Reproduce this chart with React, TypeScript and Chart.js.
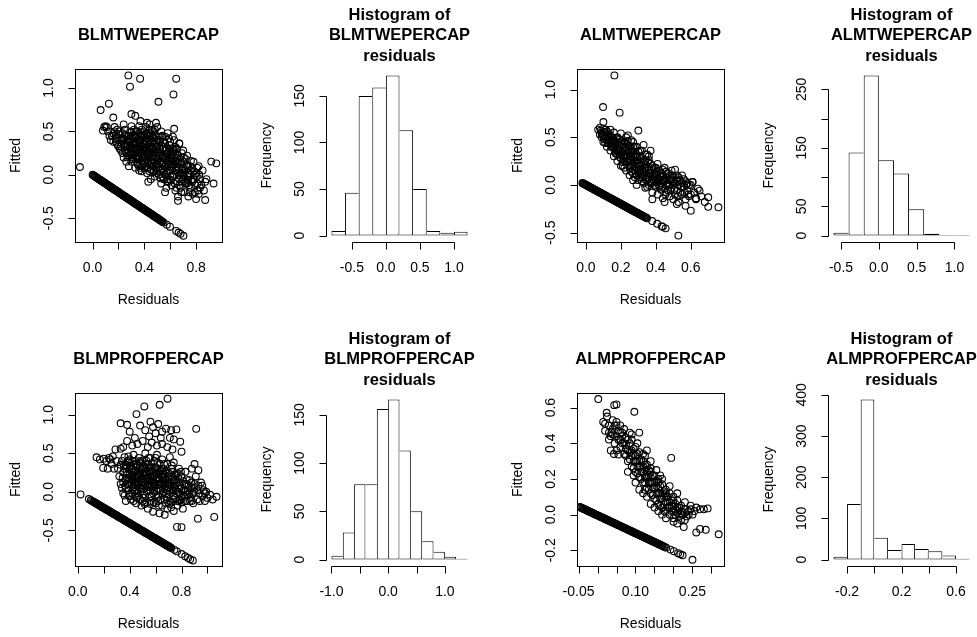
import React, { useEffect, useRef } from "react";
import { Chart, registerables } from "chart.js";

Chart.register(...registerables);

const PAGE_W = 977;
const PAGE_H = 637;
const FONT = '"Liberation Sans", Arial, Helvetica, sans-serif';

// ---------------- Panel 1: BLMTWEPERCAP (Residuals vs Fitted) ----------------
const blmTweCloud = [
  [0.15,0.45],[0.16,0.38],[0.17,0.50],[0.18,0.42],[0.19,0.35],[0.20,0.47],[0.17,0.55],[0.21,0.30],[0.14,0.40],[0.19,0.52],[0.22,0.40],[0.23,0.48],
  [0.24,0.36],[0.25,0.28],[0.26,0.44],[0.27,0.20],[0.28,0.38],[0.29,0.31],[0.30,0.49],[0.25,0.52],[0.27,0.33],[0.29,0.24],[0.23,0.25],[0.26,0.15],[0.30,0.40],[0.28,0.10],[0.31,0.18],[0.32,0.34],[0.33,0.26],[0.30,0.56],[0.24,0.58],
  [0.34,0.45],[0.35,0.12],[0.35,0.30],[0.36,0.05],[0.36,0.22],[0.37,0.40],[0.38,0.16],[0.38,0.52],[0.39,0.28],[0.40,0.08],[0.40,0.35],[0.34,0.20],[0.37,0.62],[0.33,0.08],[0.39,0.46],[0.41,0.20],[0.41,0.55],[0.36,0.35],[0.34,0.38],
  [0.42,0.02],[0.42,0.30],[0.43,0.14],[0.43,0.44],[0.44,0.24],[0.45,-0.05],[0.45,0.06],[0.46,0.36],[0.46,0.18],[0.47,0.50],[0.47,0.10],[0.48,0.28],[0.48,-0.02],[0.49,0.40],[0.49,0.20],[0.50,0.12],[0.50,0.32],[0.44,0.58],[0.45,0.48],[0.42,0.60],[0.43,-0.08],[0.47,0.03],[0.50,0.55],[0.49,0.60],
  [0.51,0.25],[0.51,0.00],[0.52,0.38],[0.52,0.15],[0.53,-0.10],[0.53,0.07],[0.54,0.30],[0.54,0.45],[0.55,0.20],[0.55,-0.05],[0.56,0.10],[0.56,0.36],[0.57,-0.15],[0.57,0.02],[0.58,0.25],[0.58,0.15],[0.59,-0.08],[0.59,0.42],[0.60,0.05],[0.60,0.30],[0.53,0.50],[0.56,-0.20],[0.58,0.48],
  [0.61,0.18],[0.61,-0.12],[0.62,0.10],[0.62,-0.02],[0.63,0.28],[0.63,0.40],[0.64,-0.18],[0.64,0.05],[0.65,0.15],[0.65,-0.08],[0.66,0.22],[0.66,-0.25],[0.67,0.00],[0.67,0.36],[0.68,0.12],[0.68,-0.15],[0.69,0.06],[0.69,0.25],[0.70,-0.05],[0.70,0.15],[0.62,0.44],[0.66,-0.30],[0.65,0.30],
  [0.71,-0.20],[0.72,0.05],[0.72,0.18],[0.73,-0.10],[0.74,0.10],[0.74,-0.25],[0.75,0.00],[0.76,-0.15],[0.77,0.08],[0.78,-0.05],[0.79,-0.20],[0.80,0.02],[0.81,-0.10],[0.82,-0.22],[0.83,-0.05],[0.84,-0.12],[0.85,0.05],[0.86,-0.18],[0.76,0.16],[0.73,0.22],[0.80,-0.28],[0.87,-0.08],[0.88,-0.05],
  [0.30,0.25],[0.32,0.30],[0.34,0.28],[0.36,0.18],[0.38,0.24],[0.40,0.20],[0.42,0.18],[0.44,0.12],[0.46,0.25],[0.48,0.15],[0.31,0.42],[0.33,0.36],[0.35,0.40],[0.37,0.32],[0.39,0.12],[0.41,0.42],[0.43,0.35],[0.45,0.30],[0.47,0.42],[0.49,0.08],
  [0.52,0.22],[0.54,0.12],[0.56,0.28],[0.58,0.05],[0.60,0.20],[0.62,0.22],[0.64,0.15],[0.66,0.08],[0.68,0.02],[0.70,0.08],[0.26,0.35],[0.28,0.45],[0.24,0.42],[0.22,0.33],[0.20,0.40],[0.18,0.46],[0.40,0.50],[0.44,0.45],[0.46,0.52],[0.36,0.48],
  [0.16,0.48],[0.18,0.38],[0.20,0.33],[0.21,0.50],[0.22,0.28],[0.23,0.42],[0.24,0.20],[0.25,0.46],[0.26,0.25],[0.27,0.40],[0.28,0.22],[0.29,0.50],[0.30,0.15],[0.31,0.30],[0.32,0.46],[0.33,0.18],
  [0.34,0.30],[0.35,0.50],[0.36,0.10],[0.37,0.25],[0.38,0.44],[0.39,0.20],[0.40,0.28],[0.41,0.10],[0.42,0.38],[0.43,0.22],[0.44,0.04],[0.45,0.40],[0.46,0.10],[0.47,0.30],[0.48,0.46],[0.49,0.12],
  [0.50,0.26],[0.50,0.02],[0.51,0.40],[0.52,0.05],[0.53,0.34],[0.54,0.22],[0.55,0.04],[0.55,0.40],[0.56,0.18],[0.57,0.30],[0.58,-0.05],[0.59,0.12],[0.60,0.38],[0.61,0.08],[0.62,0.30],[0.63,0.00],
  [0.64,0.20],[0.65,0.05],[0.66,0.14],[0.67,-0.12],[0.68,0.20],[0.69,-0.08],[0.70,0.28],[0.71,0.00],[0.72,-0.08],[0.73,0.10],[0.74,0.02],[0.75,-0.20],[0.76,0.05],[0.77,-0.08],[0.78,0.15],[0.79,0.00],
  [0.81,0.08],[0.83,-0.15],[0.35,0.20],[0.37,0.08],[0.39,0.36],[0.41,0.30],[0.43,0.28],[0.45,0.20],[0.47,0.22],[0.49,0.32],[0.51,0.18],[0.53,0.14],[0.57,0.20],[0.59,0.28],[0.61,0.24],[0.63,0.12],
  [0.65,-0.15],[0.31,0.24],[0.33,0.44],[0.29,0.38],[0.27,0.28],[0.40,0.14],[0.44,0.32],[0.48,0.36],[0.52,0.44],[0.46,0.44],[0.38,0.04],[0.42,0.46],[0.54,-0.02],[0.60,-0.02],[0.56,0.00],[0.64,0.32],
  [0.276,1.145],[0.367,1.107],[0.289,1.015],[0.646,1.107],[0.625,0.926],[0.509,0.842],[0.062,0.746],[0.126,0.819],[-0.098,0.09],[0.917,0.152],[0.956,0.132],[0.935,-0.10],[0.87,-0.29],
  [0.09,0.55],[0.10,0.56],[0.11,0.55],[0.08,0.51],[0.30,0.70],[0.33,0.68],[0.16,0.66],[0.63,0.53],[0.67,0.36],[0.82,0.10],[0.13,0.45],[0.12,0.50]
];
const blmTweCore = [
  [0.255,0.32],[0.265,0.40],[0.275,0.26],[0.285,0.34],[0.295,0.44],[0.305,0.20],[0.315,0.36],[0.325,0.24],[0.335,0.50],[0.345,0.14],[0.355,0.36],[0.365,0.28],[0.375,0.46],[0.385,0.10],
  [0.395,0.32],[0.405,0.24],[0.415,0.48],[0.425,0.08],[0.435,0.26],[0.445,0.38],[0.455,0.14],[0.465,0.32],[0.475,0.04],[0.485,0.22],[0.495,0.44],[0.505,0.06],[0.515,0.30],[0.525,-0.04],
  [0.535,0.20],[0.545,0.38],[0.555,0.10],[0.565,0.24],[0.575,-0.08],[0.585,0.18],[0.595,0.34],[0.605,-0.06],[0.615,0.12],[0.625,0.26],[0.635,-0.10],[0.645,0.10],[0.655,0.24],[0.665,-0.04],
  [0.675,0.14],[0.685,-0.20],[0.695,0.00],[0.705,0.20],[0.715,-0.10],[0.725,0.12],[0.735,-0.02],[0.745,-0.12],[0.755,0.10],[0.765,-0.06],[0.775,-0.22],[0.785,0.04],[0.795,-0.12],[0.805,-0.02],
  [0.815,-0.18],[0.825,0.00],[0.30,0.32],[0.34,0.22],[0.38,0.30],[0.42,0.24],[0.46,0.30],[0.50,0.18],[0.54,0.06],[0.58,0.10],[0.62,0.16],[0.66,0.02],[0.70,0.02],[0.74,-0.06],
  [0.32,0.52],[0.36,0.56],[0.40,0.44],[0.44,0.52],[0.48,0.52],[0.52,0.30],[0.56,0.44],[0.60,0.12]
];
const blmTweLine = [
  [0.000,0.000],[0.006,-0.006],[0.012,-0.012],[0.017,-0.017],[0.021,-0.021],[0.027,-0.027],[0.033,-0.033],[0.037,-0.037],[0.041,-0.041],[0.047,-0.047],
  [0.052,-0.052],[0.056,-0.056],[0.060,-0.060],[0.066,-0.066],[0.071,-0.071],[0.077,-0.077],[0.083,-0.083],[0.088,-0.088],[0.092,-0.092],[0.097,-0.097],
  [0.101,-0.101],[0.107,-0.107],[0.113,-0.113],[0.118,-0.118],[0.122,-0.122],[0.128,-0.128],[0.134,-0.134],[0.139,-0.139],[0.143,-0.143],[0.147,-0.147],
  [0.151,-0.151],[0.157,-0.157],[0.162,-0.162],[0.168,-0.168],[0.173,-0.173],[0.177,-0.177],[0.181,-0.181],[0.187,-0.187],[0.192,-0.192],[0.198,-0.198],
  [0.203,-0.203],[0.207,-0.207],[0.211,-0.211],[0.217,-0.217],[0.222,-0.222],[0.228,-0.228],[0.234,-0.234],[0.239,-0.239],[0.243,-0.243],[0.248,-0.248],
  [0.252,-0.252],[0.257,-0.257],[0.261,-0.261],[0.267,-0.267],[0.273,-0.273],[0.278,-0.278],[0.282,-0.282],[0.287,-0.287],[0.291,-0.291],[0.297,-0.297],
  [0.302,-0.302],[0.308,-0.308],[0.313,-0.313],[0.317,-0.317],[0.321,-0.321],[0.327,-0.327],[0.332,-0.332],[0.338,-0.338],[0.343,-0.343],[0.348,-0.348],
  [0.352,-0.352],[0.357,-0.357],[0.361,-0.361],[0.367,-0.367],[0.372,-0.372],[0.378,-0.378],[0.383,-0.383],[0.387,-0.387],[0.391,-0.391],[0.397,-0.397],
  [0.402,-0.402],[0.407,-0.407],[0.411,-0.411],[0.417,-0.417],[0.423,-0.423],[0.428,-0.428],[0.432,-0.432],[0.437,-0.437],[0.441,-0.441],[0.447,-0.447],
  [0.452,-0.452],[0.458,-0.458],[0.463,-0.463],[0.467,-0.467],[0.471,-0.471],[0.477,-0.477],[0.482,-0.482],[0.488,-0.488],[0.493,-0.493],[0.497,-0.497],
  [0.501,-0.501],[0.507,-0.507],[0.513,-0.513],[0.518,-0.518],[0.522,-0.522],[0.528,-0.528],[0.533,-0.533],[0.540,-0.540],[0.548,-0.548],
  [0.574,-0.574],[0.598,-0.598],[0.646,-0.646],[0.665,-0.665],[0.680,-0.680],[0.702,-0.702]
];
const blmTweXRange = [-0.136, 1.0];
const blmTweYRange = [-0.774, 1.219];
const blmTweXTicks = [0, 0.2, 0.4, 0.6, 0.8];
const blmTweXLabels = ["0.0", "", "0.4", "", "0.8"];
const blmTweYTicks = [-0.5, 0, 0.5, 1.0];
const blmTweYLabels = ["-0.5", "0.0", "0.5", "1.0"];

// ---------------- Panel 2: Histogram of BLMTWEPERCAP residuals ----------------
const blmTweHistMids = [-0.7, -0.5, -0.3, -0.1, 0.1, 0.3, 0.5, 0.7, 0.9, 1.1];
const blmTweHistCounts = [5, 46, 150, 159, 172, 113, 50, 5, 3, 4];
const blmTweHistXRange = [-0.88, 1.28];
const blmTweHistXTicks = [-0.5, 0, 0.5, 1.0];
const blmTweHistXLabels = ["-0.5", "0.0", "0.5", "1.0"];
const blmTweHistYTicks = [0, 50, 100, 150];
const blmTweHistYLabels = ["0", "50", "100", "150"];

// ---------------- Panel 3: ALMTWEPERCAP ----------------
const almTweCloud = [
  [0.07,0.58],[0.08,0.60],[0.09,0.55],[0.10,0.59],[0.08,0.53],[0.11,0.50],[0.12,0.56],[0.10,0.45],[0.13,0.48],[0.12,0.40],[0.14,0.52],[0.15,0.44],[0.14,0.36],[0.16,0.55],[0.16,0.30],
  [0.17,0.46],[0.17,0.38],[0.18,0.50],[0.18,0.25],[0.19,0.42],[0.19,0.33],[0.20,0.54],[0.20,0.28],[0.21,0.46],[0.21,0.20],[0.22,0.38],[0.22,0.32],[0.23,0.50],[0.23,0.15],[0.24,0.42],
  [0.24,0.26],[0.25,0.34],[0.25,0.10],[0.26,0.47],[0.26,0.22],[0.27,0.30],[0.27,0.05],[0.28,0.40],[0.28,0.16],[0.29,0.25],[0.29,0.00],[0.30,0.35],[0.30,0.12],[0.30,0.57],[0.31,0.20],
  [0.32,0.28],[0.32,0.04],[0.33,0.42],[0.33,0.14],[0.34,0.22],[0.34,-0.03],[0.35,0.32],[0.35,0.08],[0.36,0.16],[0.36,0.26],[0.37,0.02],[0.37,0.36],[0.38,0.10],[0.38,-0.08],[0.39,0.18],
  [0.39,0.04],[0.40,-0.02],[0.40,0.12],[0.41,0.22],[0.41,-0.10],[0.42,0.06],[0.42,0.15],[0.43,-0.05],[0.43,0.02],[0.44,0.10],[0.44,-0.14],[0.45,0.04],[0.45,0.18],[0.46,-0.08],[0.46,0.08],
  [0.47,0.00],[0.47,0.12],[0.48,-0.12],[0.48,0.05],[0.49,-0.03],[0.49,0.15],[0.50,0.08],[0.50,-0.15],[0.51,0.02],[0.51,0.16],[0.52,-0.06],[0.52,0.10],[0.53,0.00],[0.53,-0.18],[0.54,0.05],
  [0.55,-0.10],[0.56,-0.02],[0.57,0.04],[0.57,-0.15],[0.58,-0.06],[0.59,0.00],[0.60,-0.10],[0.61,0.03],[0.62,-0.08],[0.63,-0.14],[0.64,-0.04],
  [0.15,0.40],[0.17,0.42],[0.19,0.37],[0.21,0.34],[0.23,0.30],[0.25,0.26],[0.27,0.22],[0.29,0.18],[0.31,0.14],[0.33,0.10],[0.35,0.06],[0.37,0.12],[0.39,0.08],[0.41,0.03],[0.43,0.08],
  [0.20,0.44],[0.22,0.45],[0.24,0.35],[0.26,0.38],[0.28,0.30],[0.30,0.26],[0.32,0.20],[0.34,0.15],[0.36,0.00],[0.38,0.20],[0.13,0.44],[0.11,0.55],[0.25,0.18],[0.27,0.12],[0.30,0.05],
  [0.09,0.50],[0.10,0.53],[0.11,0.44],[0.12,0.47],[0.13,0.54],[0.14,0.44],[0.15,0.50],[0.16,0.40],[0.17,0.33],[0.18,0.44],[0.19,0.48],[0.20,0.36],[0.21,0.40],[0.22,0.25],[0.23,0.36],
  [0.24,0.46],[0.25,0.30],[0.26,0.30],[0.27,0.40],[0.28,0.24],[0.29,0.32],[0.30,0.20],[0.31,0.30],[0.32,0.12],[0.33,0.24],[0.34,0.32],[0.35,0.18],[0.36,0.10],[0.37,0.22],[0.38,0.02],
  [0.39,0.12],[0.40,0.06],[0.41,0.14],[0.42,-0.02],[0.43,0.12],[0.44,0.04],[0.45,-0.04],[0.46,0.14],[0.47,-0.06],[0.48,0.10],[0.49,0.06],[0.50,0.00],[0.51,-0.10],[0.52,0.04],[0.53,0.08],
  [0.54,-0.08],[0.55,0.02],[0.56,0.06],[0.58,0.02],[0.59,-0.12],[0.60,0.00],[0.26,0.14],[0.28,0.08],[0.31,0.08],[0.33,0.02],[0.35,-0.02],[0.22,0.18],[0.20,0.20],[0.18,0.32],[0.16,0.46],
  [0.14,0.58],[0.12,0.52],[0.24,0.52],[0.27,0.45],[0.29,0.40],[0.32,0.36],[0.34,0.26],[0.36,0.30],[0.40,0.18],[0.44,0.16],
  [0.163,1.149],[0.098,0.817],[0.193,0.758],[0.10,0.66],[0.529,-0.532],[0.758,-0.235],[0.70,-0.13],[0.70,-0.23],[0.65,-0.06],[0.61,0.03],[0.60,-0.27],[0.55,0.10],
  [0.68,-0.18],[0.57,-0.22],[0.52,-0.20],[0.45,-0.18],[0.38,-0.15],[0.63,-0.15],[0.66,-0.12]
];
const almTweCore = [
  [0.085,0.57],[0.095,0.52],[0.105,0.48],[0.115,0.58],[0.125,0.44],[0.135,0.50],[0.145,0.40],[0.155,0.47],[0.165,0.35],[0.175,0.49],[0.185,0.38],[0.195,0.29],[0.205,0.42],[0.215,0.30],
  [0.225,0.44],[0.235,0.24],[0.245,0.38],[0.255,0.20],[0.265,0.34],[0.275,0.26],[0.285,0.12],[0.295,0.29],[0.305,0.16],[0.315,0.24],[0.325,0.08],[0.335,0.18],[0.345,0.10],[0.355,0.24],
  [0.365,0.04],[0.375,0.16],[0.385,0.06],[0.395,0.00],[0.405,0.10],[0.415,0.06],[0.425,0.10],[0.435,-0.02],[0.445,0.06],[0.455,-0.10],[0.465,0.02],[0.475,0.06],[0.485,-0.06],[0.495,0.10],
  [0.505,-0.05],[0.515,0.06],[0.525,-0.12],[0.535,0.04],[0.545,-0.02],[0.565,-0.08],[0.575,0.00],[0.585,-0.10],[0.18,0.36],[0.20,0.32],[0.22,0.28],[0.24,0.30],[0.26,0.26],[0.28,0.20],
  [0.30,0.16],[0.32,0.16],[0.34,0.06],[0.36,0.12],[0.21,0.24],[0.23,0.40],[0.25,0.40],[0.27,0.35],[0.29,0.10],[0.31,0.36],[0.42,0.00],[0.46,0.00],[0.50,0.04],[0.48,0.00]
];
const almTweLine = [
  [-0.020,0.020],[-0.016,0.016],[-0.012,0.012],[-0.008,0.008],[-0.004,0.004],[0.000,0.000],[0.004,-0.004],[0.009,-0.009],[0.013,-0.013],[0.017,-0.017],
  [0.021,-0.021],[0.026,-0.026],[0.030,-0.030],[0.034,-0.034],[0.038,-0.038],[0.043,-0.043],[0.047,-0.047],[0.051,-0.051],[0.055,-0.055],[0.060,-0.060],
  [0.064,-0.064],[0.068,-0.068],[0.072,-0.072],[0.077,-0.077],[0.081,-0.081],[0.085,-0.085],[0.090,-0.090],[0.094,-0.094],[0.098,-0.098],[0.103,-0.103],
  [0.107,-0.107],[0.111,-0.111],[0.116,-0.116],[0.120,-0.120],[0.124,-0.124],[0.128,-0.128],[0.133,-0.133],[0.137,-0.137],[0.141,-0.141],[0.146,-0.146],
  [0.150,-0.150],[0.154,-0.154],[0.158,-0.158],[0.163,-0.163],[0.167,-0.167],[0.171,-0.171],[0.176,-0.176],[0.180,-0.180],[0.184,-0.184],[0.189,-0.189],
  [0.193,-0.193],[0.197,-0.197],[0.201,-0.201],[0.206,-0.206],[0.210,-0.210],[0.214,-0.214],[0.219,-0.219],[0.223,-0.223],[0.227,-0.227],[0.231,-0.231],
  [0.236,-0.236],[0.240,-0.240],[0.244,-0.244],[0.249,-0.249],[0.253,-0.253],[0.257,-0.257],[0.262,-0.262],[0.266,-0.266],[0.270,-0.270],[0.275,-0.275],
  [0.279,-0.279],[0.283,-0.283],[0.288,-0.288],[0.292,-0.292],[0.296,-0.296],[0.300,-0.300],[0.305,-0.305],[0.309,-0.309],[0.313,-0.313],[0.318,-0.318],
  [0.322,-0.322],[0.326,-0.326],[0.331,-0.331],[0.335,-0.335],[0.340,-0.340],[0.345,-0.345],[0.350,-0.350],
  [0.379,-0.379],[0.408,-0.408],[0.433,-0.433],[0.440,-0.440],[0.456,-0.456]
];
const almTweXRange = [-0.051, 0.79];
const almTweYRange = [-0.599, 1.216];
const almTweXTicks = [0, 0.2, 0.4, 0.6];
const almTweXLabels = ["0.0", "0.2", "0.4", "0.6"];
const almTweYTicks = [-0.5, 0, 0.5, 1.0];
const almTweYLabels = ["-0.5", "0.0", "0.5", "1.0"];

// ---------------- Panel 4: Histogram of ALMTWEPERCAP residuals ----------------
const almTweHistMids = [-0.5, -0.3, -0.1, 0.1, 0.3, 0.5, 0.7, 0.9, 1.1];
const almTweHistCounts = [5, 142, 274, 129, 106, 45, 3, 1, 1];
const almTweHistXRange = [-0.672, 1.272];
const almTweHistXTicks = [-0.5, 0, 0.5, 1.0];
const almTweHistXLabels = ["-0.5", "0.0", "0.5", "1.0"];
const almTweHistYTicks = [0, 50, 100, 150, 200, 250];
const almTweHistYLabels = ["0", "50", "", "150", "", "250"];

// ---------------- Panel 5: BLMPROFPERCAP ----------------
const blmProfCloud = [
  [0.33,0.89],[0.38,0.87],[0.40,0.78],[0.44,0.70],[0.48,0.86],[0.52,0.80],[0.56,0.91],[0.55,0.72],[0.58,0.84],[0.60,0.76],[0.62,0.88],[0.65,0.78],[0.64,0.70],[0.68,0.82],[0.71,0.70],
  [0.72,0.80],[0.76,0.81],[0.74,0.68],[0.79,0.65],[0.46,0.62],[0.42,0.60],[0.50,0.66],[0.54,0.58],[0.57,0.64],[0.61,0.60],[0.65,0.62],[0.69,0.58],[0.73,0.55],[0.80,0.52],[0.35,0.58],
  [0.33,0.56],[0.29,0.55],[0.38,0.66],[0.144,0.448],[0.195,0.31],[0.17,0.42],[0.20,0.43],[0.22,0.40],[0.24,0.44],[0.26,0.36],[0.23,0.30],[0.27,0.46],[0.28,0.30],[0.30,0.40],[0.25,0.42],
  [0.32,0.20],[0.33,0.35],[0.34,0.05],[0.35,0.25],[0.36,0.45],[0.36,-0.05],[0.37,0.15],[0.38,0.32],[0.39,0.02],[0.40,0.22],[0.40,0.42],[0.41,-0.10],[0.42,0.10],[0.42,0.30],[0.43,0.48],
  [0.44,0.00],[0.44,0.18],[0.45,0.36],[0.45,-0.15],[0.46,0.08],[0.46,0.26],[0.47,0.44],[0.47,-0.05],[0.48,0.14],[0.48,0.32],[0.49,-0.18],[0.49,0.04],[0.50,0.22],[0.50,0.40],[0.51,-0.08],
  [0.51,0.12],[0.52,0.30],[0.52,0.50],[0.53,0.00],[0.53,0.18],[0.54,-0.22],[0.54,0.36],[0.55,0.06],[0.55,0.24],[0.56,0.44],[0.56,-0.12],[0.57,0.14],[0.57,0.32],[0.58,-0.02],[0.58,-0.26],
  [0.59,0.20],[0.59,0.40],[0.60,0.08],[0.60,-0.15],[0.61,0.28],[0.61,0.48],[0.62,-0.05],[0.62,0.14],[0.63,0.36],[0.63,-0.28],[0.64,0.02],[0.64,0.22],[0.65,-0.18],[0.65,0.42],[0.66,0.10],
  [0.66,0.30],[0.67,-0.10],[0.67,-0.30],[0.68,0.16],[0.68,0.04],[0.69,0.36],[0.69,-0.22],[0.70,0.24],[0.70,-0.04],[0.71,0.10],[0.71,0.45],[0.72,-0.14],[0.72,0.30],[0.73,0.02],[0.73,0.18],
  [0.74,-0.25],[0.74,0.38],[0.75,0.08],[0.75,-0.08],[0.76,0.22],[0.77,-0.18],[0.77,0.00],[0.78,0.12],[0.78,0.30],[0.79,-0.10],[0.80,0.04],[0.80,0.20],[0.81,-0.22],[0.82,0.10],[0.82,-0.05],
  [0.83,0.26],[0.84,-0.12],[0.85,0.02],[0.86,0.15],[0.87,-0.08],[0.88,0.05],[0.89,-0.15],[0.90,0.00],[0.91,0.20],[0.92,-0.10],[0.93,0.08],[0.94,-0.02],[0.95,0.12],[0.96,-0.06],[0.97,0.02],
  [0.98,-0.12],[0.99,0.00],[1.00,-0.08],[1.02,-0.04],[1.04,-0.10],[1.07,-0.065],[0.90,0.36],[0.88,0.30],[0.93,0.28],
  [0.38,0.10],[0.41,0.20],[0.43,0.06],[0.45,0.12],[0.47,0.20],[0.49,0.28],[0.51,0.04],[0.53,0.26],[0.55,0.14],[0.57,0.08],[0.59,0.00],[0.61,0.18],[0.63,0.10],[0.65,0.20],[0.67,0.06],
  [0.69,0.12],[0.44,0.26],[0.46,0.16],[0.48,0.06],[0.50,0.14],[0.52,0.08],[0.54,0.20],[0.56,0.02],[0.58,0.12],[0.60,0.24],[0.62,0.04],[0.39,0.38],[0.35,0.12],[0.37,-0.12],[0.42,-0.02],
  [0.31,0.30],[0.33,0.10],[0.34,0.40],[0.35,-0.02],[0.36,0.30],[0.37,0.05],[0.38,0.22],[0.39,0.46],[0.40,-0.06],[0.41,0.34],[0.42,0.16],[0.43,-0.12],[0.43,0.26],[0.44,0.40],[0.45,0.02],
  [0.46,0.34],[0.47,0.10],[0.48,-0.10],[0.49,0.18],[0.50,0.30],[0.51,0.22],[0.52,-0.14],[0.53,0.40],[0.54,0.02],[0.55,0.32],[0.56,0.20],[0.57,-0.06],[0.58,0.28],[0.59,0.10],[0.60,0.44],
  [0.61,-0.08],[0.62,0.24],[0.63,0.18],[0.64,-0.10],[0.65,0.30],[0.66,0.00],[0.67,0.22],[0.68,-0.15],[0.69,0.02],[0.70,0.16],[0.71,-0.12],[0.72,0.08],[0.73,0.26],[0.74,-0.05],[0.75,0.16],
  [0.76,-0.02],[0.77,0.24],[0.78,-0.12],[0.79,0.08],[0.80,-0.14],[0.81,0.14],[0.83,0.00],[0.84,0.16],[0.86,-0.02],[0.88,-0.12],[0.90,0.10],[0.92,0.02],[0.94,-0.12],[0.96,0.08],[0.98,-0.02],
  [0.40,0.10],[0.44,0.10],[0.48,0.24],[0.52,0.16],[0.56,0.10],[0.60,0.16],[0.64,0.08],[0.68,0.26],[0.72,0.20],[0.76,0.12],[0.46,-0.02],[0.50,-0.04],[0.54,0.10],[0.58,0.04],[0.62,0.10],
  [0.66,0.18],[0.70,0.06],[0.74,0.14],[0.37,0.35],[0.42,0.40],
  [0.692,1.209],[0.631,1.13],[0.513,1.108],[0.452,1.009],[0.913,0.817],[1.052,-0.327],[0.926,-0.35],[0.765,-0.457],[0.80,-0.46]
];
const blmProfCore = [
  [0.345,0.18],[0.355,0.34],[0.365,0.08],[0.375,0.26],[0.385,0.40],[0.395,-0.04],[0.405,0.16],[0.415,0.28],[0.425,0.04],[0.435,0.36],[0.445,0.14],[0.455,-0.08],[0.465,0.22],[0.475,0.38],
  [0.485,0.00],[0.495,0.12],[0.505,0.34],[0.515,-0.16],[0.525,0.24],[0.535,0.06],[0.545,0.44],[0.555,-0.06],[0.565,0.26],[0.575,0.16],[0.585,-0.14],[0.595,0.30],[0.605,0.02],[0.615,0.38],
  [0.625,-0.18],[0.635,0.26],[0.645,0.12],[0.655,-0.04],[0.665,0.36],[0.675,0.10],[0.685,-0.08],[0.695,0.20],[0.705,-0.16],[0.715,0.04],[0.725,0.34],[0.735,-0.10],[0.745,0.22],[0.755,0.02],
  [0.765,-0.12],[0.775,0.18],[0.785,-0.02],[0.795,0.26],[0.805,-0.08],[0.815,0.02],[0.825,-0.12],[0.835,0.10],[0.845,-0.04],[0.855,0.08],[0.865,-0.12],[0.875,0.12],[0.885,-0.02],[0.895,0.06],
  [0.42,0.22],[0.46,0.20],[0.50,0.08],[0.54,0.16],[0.58,0.20],[0.62,0.18],[0.66,0.24],[0.70,0.10],[0.74,0.06],[0.78,0.04],[0.48,0.40],[0.52,0.36],[0.56,0.30],[0.60,0.32],
  [0.64,0.28],[0.50,-0.12],[0.56,-0.16],[0.62,-0.12],[0.68,-0.02],[0.72,-0.20],[0.40,0.30],[0.44,-0.06],[0.38,0.18]
];
const blmProfLine = [
  [0.021,-0.035],[0.085,-0.095],[0.100,-0.110],[0.109,-0.119],[0.118,-0.128],[0.124,-0.134],[0.131,-0.141],[0.137,-0.147],[0.143,-0.153],[0.148,-0.158],
  [0.152,-0.162],[0.159,-0.169],[0.165,-0.175],[0.172,-0.182],[0.178,-0.188],[0.184,-0.194],[0.190,-0.200],[0.196,-0.206],[0.201,-0.211],[0.208,-0.218],
  [0.214,-0.224],[0.220,-0.230],[0.226,-0.236],[0.232,-0.242],[0.238,-0.248],[0.244,-0.254],[0.250,-0.260],[0.256,-0.266],[0.262,-0.272],[0.269,-0.279],
  [0.275,-0.285],[0.281,-0.291],[0.287,-0.297],[0.293,-0.303],[0.299,-0.309],[0.305,-0.315],[0.311,-0.321],[0.317,-0.327],[0.323,-0.333],[0.330,-0.340],
  [0.336,-0.346],[0.342,-0.352],[0.348,-0.358],[0.354,-0.364],[0.360,-0.370],[0.366,-0.376],[0.372,-0.382],[0.378,-0.388],[0.385,-0.395],[0.391,-0.401],
  [0.397,-0.407],[0.403,-0.413],[0.409,-0.419],[0.415,-0.425],[0.421,-0.431],[0.427,-0.437],[0.433,-0.443],[0.440,-0.450],[0.446,-0.456],[0.452,-0.462],
  [0.458,-0.468],[0.464,-0.474],[0.470,-0.480],[0.476,-0.486],[0.482,-0.492],[0.489,-0.499],[0.495,-0.505],[0.501,-0.511],[0.507,-0.517],[0.513,-0.523],
  [0.519,-0.529],[0.525,-0.535],[0.531,-0.541],[0.537,-0.547],[0.543,-0.553],[0.550,-0.560],[0.556,-0.566],[0.562,-0.572],[0.568,-0.578],[0.574,-0.584],
  [0.580,-0.590],[0.586,-0.596],[0.592,-0.602],[0.598,-0.608],[0.604,-0.614],[0.611,-0.621],[0.617,-0.627],[0.623,-0.633],[0.629,-0.639],[0.635,-0.645],
  [0.641,-0.651],[0.647,-0.657],[0.653,-0.663],[0.659,-0.669],[0.665,-0.675],[0.672,-0.682],[0.678,-0.688],[0.684,-0.694],[0.690,-0.700],[0.696,-0.706],
  [0.702,-0.712],[0.708,-0.718],[0.714,-0.724],[0.720,-0.730],[0.745,-0.755],[0.765,-0.775],[0.800,-0.810],[0.828,-0.838],[0.850,-0.860],[0.867,-0.877],[0.887,-0.893]
];
const blmProfXRange = [-0.022, 1.112];
const blmProfYRange = [-0.965, 1.283];
const blmProfXTicks = [0, 0.2, 0.4, 0.6, 0.8, 1.0];
const blmProfXLabels = ["0.0", "", "0.4", "", "0.8", ""];
const blmProfYTicks = [-0.5, 0, 0.5, 1.0];
const blmProfYLabels = ["-0.5", "0.0", "0.5", "1.0"];

// ---------------- Panel 6: Histogram of BLMPROFPERCAP residuals ----------------
const blmProfHistMids = [-0.9, -0.7, -0.5, -0.3, -0.1, 0.1, 0.3, 0.5, 0.7, 0.9, 1.1, 1.3];
const blmProfHistCounts = [4, 28, 78, 78, 156, 166, 113, 50, 19, 8, 3, 1];
const blmProfHistXRange = [-1.096, 1.496];
const blmProfHistXTicks = [-1.0, -0.5, 0, 0.5, 1.0];
const blmProfHistXLabels = ["-1.0", "", "0.0", "", "1.0"];
const blmProfHistYTicks = [0, 50, 100, 150];
const blmProfHistYLabels = ["0", "50", "100", "150"];

// ---------------- Panel 7: ALMPROFPERCAP ----------------
const almProfCloud = [
  [0.015,0.52],[0.02,0.47],[0.025,0.55],[0.03,0.50],[0.035,0.44],[0.04,0.53],[0.04,0.48],[0.045,0.40],[0.05,0.50],[0.05,0.44],[0.055,0.47],[0.06,0.38],[0.06,0.42],[0.065,0.46],[0.07,0.40],
  [0.07,0.34],[0.075,0.43],[0.08,0.36],[0.08,0.30],[0.085,0.40],[0.09,0.33],[0.09,0.27],[0.095,0.37],[0.10,0.30],[0.10,0.24],[0.105,0.34],[0.11,0.27],[0.11,0.21],[0.115,0.31],[0.12,0.24],
  [0.12,0.18],[0.125,0.28],[0.13,0.21],[0.13,0.15],[0.135,0.25],[0.14,0.18],[0.14,0.12],[0.145,0.22],[0.15,0.15],[0.15,0.09],[0.155,0.19],[0.16,0.12],[0.16,0.06],[0.165,0.16],[0.17,0.09],
  [0.17,0.04],[0.175,0.13],[0.18,0.07],[0.18,0.02],[0.185,0.10],[0.19,0.04],[0.19,0.00],[0.195,0.08],[0.20,0.02],[0.20,-0.02],[0.205,0.06],[0.21,0.01],[0.215,0.04],[0.22,-0.03],[0.22,0.02],
  [0.225,0.00],[0.23,0.03],[0.235,-0.01],[0.24,0.02],[0.245,0.03],[0.25,0.00],[0.255,0.02],
  [0.05,0.36],[0.07,0.48],[0.09,0.42],[0.10,0.38],[0.11,0.35],[0.12,0.30],[0.13,0.28],[0.14,0.26],[0.15,0.22],[0.16,0.20],[0.17,0.17],[0.18,0.14],[0.19,0.12],[0.20,0.10],[0.21,0.08],
  [0.12,0.12],[0.14,0.06],[0.16,0.02],[0.18,-0.02],[0.20,-0.04],[0.08,0.24],[0.10,0.18],[0.13,0.36],[0.11,0.46],[0.095,0.22],[0.125,0.14],[0.165,0.22],[0.21,-0.05],[0.23,-0.03],[0.085,0.46],
  [0.06,0.50],[0.035,0.36],
  [0.02,0.51],[0.03,0.46],[0.045,0.50],[0.055,0.42],[0.065,0.40],[0.075,0.37],[0.08,0.42],[0.09,0.36],[0.095,0.30],[0.10,0.33],[0.105,0.27],[0.11,0.30],[0.115,0.24],[0.12,0.27],[0.125,0.21],
  [0.13,0.24],[0.135,0.18],[0.14,0.21],[0.145,0.15],[0.15,0.18],[0.155,0.12],[0.16,0.15],[0.165,0.09],[0.17,0.12],[0.175,0.06],[0.18,0.10],[0.185,0.04],[0.19,0.07],[0.195,0.02],[0.20,0.05],
  [0.205,0.00],[0.21,0.04],[0.215,-0.01],[0.22,0.05],[0.09,0.45],[0.105,0.40],[0.125,0.33],[0.14,0.30],[0.155,0.25],[0.17,0.20],[0.19,0.16],[0.21,0.12],[0.11,0.14],[0.13,0.10],[0.15,0.04],[0.17,0.00],
  [0.002,0.648],[0.024,0.571],[0.044,0.614],[0.05,0.618],[0.097,0.577],[0.03,0.421],[0.037,0.46],[0.043,0.34],[0.055,0.337],[0.194,0.318],[0.27,0.03],[0.319,-0.11],[0.285,-0.085],
  [0.27,-0.08],[0.25,-0.253],[0.26,-0.10],[0.227,-0.07],[0.23,0.07],[0.245,0.05],[0.26,0.04],[0.28,0.03],[0.29,0.035]
];
const almProfCore = [
  [0.065,0.44],[0.075,0.39],[0.085,0.35],[0.095,0.34],[0.105,0.30],[0.115,0.27],[0.125,0.25],[0.135,0.22],[0.145,0.18],[0.155,0.16],[0.165,0.12],[0.175,0.10],[0.185,0.07],[0.195,0.05],
  [0.205,0.03],[0.105,0.23],[0.115,0.20],[0.125,0.18],[0.135,0.14],[0.145,0.11],[0.155,0.08],[0.165,0.05],[0.175,0.02],[0.085,0.31],[0.095,0.26],[0.075,0.33],[0.12,0.34],[0.14,0.24],
  [0.16,0.18],[0.18,0.12],[0.20,0.08],[0.22,0.00],[0.24,0.00],[0.23,0.01],[0.06,0.46],[0.04,0.45],[0.05,0.52]
];
const almProfLine = [
  [-0.047,0.043],[-0.045,0.041],[-0.043,0.039],[-0.040,0.036],[-0.038,0.034],[-0.036,0.032],[-0.034,0.030],[-0.031,0.027],[-0.029,0.025],[-0.027,0.023],
  [-0.025,0.021],[-0.022,0.018],[-0.020,0.016],[-0.018,0.014],[-0.016,0.012],[-0.013,0.009],[-0.011,0.007],[-0.009,0.005],[-0.007,0.003],[-0.004,0.000],
  [-0.002,-0.002],[0.000,-0.004],[0.002,-0.006],[0.005,-0.009],[0.007,-0.011],[0.009,-0.013],[0.011,-0.015],[0.014,-0.018],[0.016,-0.020],[0.018,-0.022],
  [0.020,-0.024],[0.023,-0.027],[0.025,-0.029],[0.027,-0.031],[0.029,-0.033],[0.032,-0.036],[0.034,-0.038],[0.036,-0.040],[0.038,-0.042],[0.041,-0.045],
  [0.043,-0.047],[0.045,-0.049],[0.047,-0.051],[0.050,-0.054],[0.052,-0.056],[0.054,-0.058],[0.056,-0.060],[0.059,-0.063],[0.061,-0.065],[0.063,-0.067],
  [0.065,-0.069],[0.068,-0.072],[0.070,-0.074],[0.072,-0.076],[0.074,-0.078],[0.077,-0.081],[0.079,-0.083],[0.081,-0.085],[0.083,-0.087],[0.086,-0.090],
  [0.088,-0.092],[0.090,-0.094],[0.092,-0.096],[0.095,-0.099],[0.097,-0.101],[0.099,-0.103],[0.101,-0.105],[0.104,-0.108],[0.106,-0.110],[0.108,-0.112],
  [0.110,-0.114],[0.113,-0.117],[0.115,-0.119],[0.117,-0.121],[0.119,-0.123],[0.122,-0.126],[0.124,-0.128],[0.126,-0.130],[0.128,-0.132],[0.131,-0.135],
  [0.133,-0.137],[0.135,-0.139],[0.137,-0.141],[0.140,-0.144],[0.142,-0.146],[0.144,-0.148],[0.146,-0.150],[0.149,-0.153],[0.151,-0.155],[0.153,-0.157],
  [0.155,-0.159],[0.158,-0.162],[0.160,-0.164],[0.162,-0.166],[0.164,-0.168],[0.167,-0.171],[0.169,-0.173],[0.171,-0.175],[0.174,-0.178],[0.177,-0.181],
  [0.181,-0.185],[0.192,-0.196],[0.201,-0.205],[0.212,-0.216],[0.218,-0.222],[0.224,-0.228]
];
const almProfXRange = [-0.054, 0.333];
const almProfYRange = [-0.288, 0.682];
const almProfXTicks = [-0.05, 0, 0.05, 0.10, 0.15, 0.20, 0.25, 0.30];
const almProfXLabels = ["-0.05", "", "", "0.10", "", "", "0.25", ""];
const almProfYTicks = [-0.2, 0, 0.2, 0.4, 0.6];
const almProfYLabels = ["-0.2", "0.0", "0.2", "0.4", "0.6"];

// ---------------- Panel 8: Histogram of ALMPROFPERCAP residuals ----------------
const almProfHistMids = [-0.25, -0.15, -0.05, 0.05, 0.15, 0.25, 0.35, 0.45, 0.55, 0.65];
const almProfHistCounts = [7, 135, 389, 53, 23, 38, 26, 20, 10, 2];
const almProfHistXRange = [-0.34, 0.74];
const almProfHistXTicks = [-0.2, 0, 0.2, 0.4, 0.6];
const almProfHistXLabels = ["-0.2", "", "0.2", "", "0.6"];
const almProfHistYTicks = [0, 100, 200, 300, 400];
const almProfHistYLabels = ["0", "100", "200", "300", "400"];

// ---------------- Layout (plot regions) ----------------
const COL_LEFT = [75, 326, 577, 828];
const ROW_TOP = [69, 393];
const PLOT_W = 147;
const PLOT_H = 173;

function padFor(col: number, row: number) {
  return {
    left: COL_LEFT[col],
    top: ROW_TOP[row],
    right: PAGE_W - COL_LEFT[col] - PLOT_W,
    bottom: PAGE_H - ROW_TOP[row] - PLOT_H,
  };
}

type Spec = {
  box: boolean;
  title: string[];
  xlab: string;
  ylab: string;
  xTicks: number[];
  xLabels: string[];
  yTicks: number[];
  yLabels: string[];
};

function makeRPlot(spec: Spec) {
  return {
    id: "rplot",
    afterDraw(chart: any) {
      const ctx = chart.ctx as CanvasRenderingContext2D;
      const a = chart.chartArea;
      const xs = chart.scales.x;
      const ys = chart.scales.y;
      const crisp = (v: number) => Math.round(v) + 0.5;
      ctx.save();
      ctx.strokeStyle = "#000";
      ctx.fillStyle = "#000";
      ctx.lineWidth = 1;
      const L = crisp(a.left), R = crisp(a.right), T = crisp(a.top), B = crisp(a.bottom);
      if (spec.box) {
        ctx.strokeRect(L, T, R - L, B - T);
      }
      const TICK = 7;
      const xp = spec.xTicks.map((t) => crisp(xs.getPixelForValue(t)));
      ctx.beginPath();
      ctx.moveTo(xp[0], B);
      ctx.lineTo(xp[xp.length - 1], B);
      xp.forEach((p) => {
        ctx.moveTo(p, B);
        ctx.lineTo(p, B + TICK);
      });
      const yp = spec.yTicks.map((t) => crisp(ys.getPixelForValue(t)));
      ctx.moveTo(L, yp[0]);
      ctx.lineTo(L, yp[yp.length - 1]);
      yp.forEach((p) => {
        ctx.moveTo(L, p);
        ctx.lineTo(L - TICK, p);
      });
      ctx.stroke();

      ctx.font = `14px ${FONT}`;
      ctx.textAlign = "center";
      ctx.textBaseline = "middle";
      spec.xLabels.forEach((s, i) => {
        if (s) ctx.fillText(s, xs.getPixelForValue(spec.xTicks[i]), a.bottom + 26);
      });
      spec.yLabels.forEach((s, i) => {
        if (!s) return;
        ctx.save();
        ctx.translate(a.left - 26, ys.getPixelForValue(spec.yTicks[i]));
        ctx.rotate(-Math.PI / 2);
        ctx.fillText(s, 0, 0);
        ctx.restore();
      });
      const cx = (a.left + a.right) / 2;
      const cy = (a.top + a.bottom) / 2;
      if (spec.xlab) ctx.fillText(spec.xlab, cx, a.bottom + 58);
      ctx.save();
      ctx.translate(a.left - 59, cy);
      ctx.rotate(-Math.PI / 2);
      ctx.fillText(spec.ylab, 0, 0);
      ctx.restore();

      ctx.font = `bold 16.5px ${FONT}`;
      const n = spec.title.length;
      spec.title.forEach((line, i) => {
        ctx.fillText(line, cx, a.top - 33.5 + (i - (n - 1) / 2) * 20.5);
      });
      ctx.restore();
    },
  };
}

function scatterConfig(col: number, row: number, title: string, cloud: number[][], line: number[][],
  xr: number[], yr: number[], xTicks: number[], xLabels: string[], yTicks: number[], yLabels: string[]) {
  const pts = cloud.concat(line).map(([x, y]) => ({ x, y }));
  return {
    type: "scatter",
    data: {
      datasets: [
        {
          data: pts,
          pointRadius: 3.4,
          pointHoverRadius: 3.4,
          pointBorderColor: "#000",
          pointBackgroundColor: "rgba(0,0,0,0)",
          pointBorderWidth: 1.1,
          showLine: false,
        },
      ],
    },
    options: {
      responsive: false,
      animation: false,
      devicePixelRatio: 1,
      events: [],
      layout: { padding: padFor(col, row) },
      scales: {
        x: { type: "linear", min: xr[0], max: xr[1], display: false },
        y: { type: "linear", min: yr[0], max: yr[1], display: false },
      },
      plugins: { legend: { display: false }, tooltip: { enabled: false } },
    },
    plugins: [makeRPlot({ box: true, title: [title], xlab: "Residuals", ylab: "Fitted", xTicks, xLabels, yTicks, yLabels })],
  };
}

function histConfig(col: number, row: number, name: string, mids: number[], counts: number[],
  xr: number[], xTicks: number[], xLabels: string[], yTicks: number[], yLabels: string[]) {
  const M = Math.max(...counts);
  return {
    type: "bar",
    data: {
      datasets: [
        {
          data: mids.map((m, i) => ({ x: m, y: counts[i] })),
          backgroundColor: "#ffffff",
          borderColor: "#000000",
          borderSkipped: false,
          inflateAmount: 0,
          barPercentage: 1,
          categoryPercentage: 1,
          borderWidth: (c: any) => {
            const i = c.dataIndex;
            if (i === undefined || i === null) return 1;
            const left = i === 0 || counts[i] > counts[i - 1] ? 1 : 0;
            const right = i === counts.length - 1 || counts[i] >= counts[i + 1] ? 1 : 0;
            return { top: 1, bottom: 1, left, right };
          },
        },
      ],
    },
    options: {
      responsive: false,
      animation: false,
      devicePixelRatio: 1,
      events: [],
      layout: { padding: padFor(col, row) },
      scales: {
        x: { type: "linear", min: xr[0], max: xr[1], display: false, offset: false },
        y: { type: "linear", min: -0.04 * M, max: 1.04 * M, display: false },
      },
      plugins: { legend: { display: false }, tooltip: { enabled: false } },
    },
    plugins: [makeRPlot({ box: false, title: ["Histogram of", name, "residuals"], xlab: "", ylab: "Frequency", xTicks, xLabels, yTicks, yLabels })],
  };
}

const CONFIG_FACTORIES = [
  () => scatterConfig(0, 0, "BLMTWEPERCAP", blmTweCloud.concat(blmTweCore), blmTweLine, blmTweXRange, blmTweYRange, blmTweXTicks, blmTweXLabels, blmTweYTicks, blmTweYLabels),
  () => histConfig(1, 0, "BLMTWEPERCAP", blmTweHistMids, blmTweHistCounts, blmTweHistXRange, blmTweHistXTicks, blmTweHistXLabels, blmTweHistYTicks, blmTweHistYLabels),
  () => scatterConfig(2, 0, "ALMTWEPERCAP", almTweCloud.concat(almTweCore), almTweLine, almTweXRange, almTweYRange, almTweXTicks, almTweXLabels, almTweYTicks, almTweYLabels),
  () => histConfig(3, 0, "ALMTWEPERCAP", almTweHistMids, almTweHistCounts, almTweHistXRange, almTweHistXTicks, almTweHistXLabels, almTweHistYTicks, almTweHistYLabels),
  () => scatterConfig(0, 1, "BLMPROFPERCAP", blmProfCloud.concat(blmProfCore), blmProfLine, blmProfXRange, blmProfYRange, blmProfXTicks, blmProfXLabels, blmProfYTicks, blmProfYLabels),
  () => histConfig(1, 1, "BLMPROFPERCAP", blmProfHistMids, blmProfHistCounts, blmProfHistXRange, blmProfHistXTicks, blmProfHistXLabels, blmProfHistYTicks, blmProfHistYLabels),
  () => scatterConfig(2, 1, "ALMPROFPERCAP", almProfCloud.concat(almProfCore), almProfLine, almProfXRange, almProfYRange, almProfXTicks, almProfXLabels, almProfYTicks, almProfYLabels),
  () => histConfig(3, 1, "ALMPROFPERCAP", almProfHistMids, almProfHistCounts, almProfHistXRange, almProfHistXTicks, almProfHistXLabels, almProfHistYTicks, almProfHistYLabels),
];

function PanelChart({ make }: { make: () => any }) {
  const ref = useRef<HTMLCanvasElement | null>(null);
  useEffect(() => {
    if (!ref.current) return;
    const chart = new Chart(ref.current, make());
    return () => chart.destroy();
  }, [make]);
  return (
    <canvas
      ref={ref}
      width={PAGE_W}
      height={PAGE_H}
      style={{ position: "absolute", left: 0, top: 0, width: PAGE_W, height: PAGE_H }}
    />
  );
}

export default function App() {
  return (
    <div style={{ position: "fixed", left: 0, top: 0, width: PAGE_W, height: PAGE_H, background: "#ffffff", overflow: "hidden" }}>
      {CONFIG_FACTORIES.map((f, i) => (
        <PanelChart key={i} make={f} />
      ))}
    </div>
  );
}
